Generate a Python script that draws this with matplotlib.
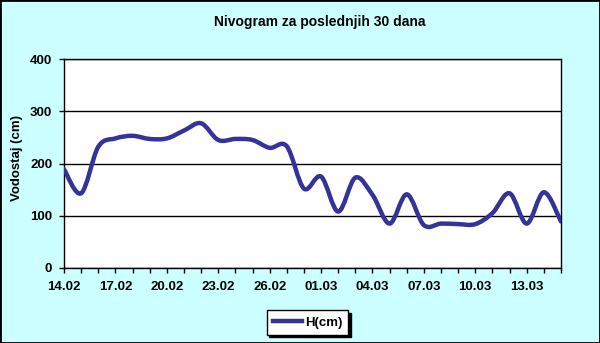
import numpy as np
import matplotlib
matplotlib.use("Agg")
import matplotlib.pyplot as plt
from matplotlib.path import Path
from matplotlib.patches import PathPatch, Rectangle
from matplotlib.lines import Line2D

# ---------------------------------------------------------
# data (water level, cm) - one value per day, 14.02 .. 15.03
# ---------------------------------------------------------
levels = [189, 143, 232, 248, 253, 247, 248, 263, 277, 245,
          247, 245, 230, 233, 152, 175, 108, 173, 140, 85,
          141, 82, 85, 84, 84, 105, 143, 85, 145, 89]
tick_days = [0, 3, 6, 9, 12, 15, 18, 21, 24, 27]
tick_labels = ["14.02", "17.02", "20.02", "23.02", "26.02",
               "01.03", "04.03", "07.03", "10.03", "13.03"]
y_ticks = [0, 100, 200, 300, 400]

BG = "#CCFFFF"
LINE = "#333399"
FONT = "Liberation Sans"


def smooth_path(xs, ys):
    # Excel-style smoothed line: Catmull-Rom segments as cubic beziers
    pts = np.column_stack([xs, ys]).astype(float)
    n = len(pts)
    verts = [pts[0]]
    codes = [Path.MOVETO]
    for i in range(n - 1):
        p0 = pts[max(i - 1, 0)]
        p1 = pts[i]
        p2 = pts[i + 1]
        p3 = pts[min(i + 2, n - 1)]
        verts += [p1 + (p2 - p0) / 6.0, p2 - (p3 - p1) / 6.0, p2]
        codes += [Path.CURVE4] * 3
    return Path(verts, codes)


fig = plt.figure(figsize=(6.0, 3.43), dpi=100)
fig.patch.set_facecolor(BG)
ax = fig.add_axes([64 / 600, 1 - 268 / 343, 497 / 600, 209 / 343])
ax.set_facecolor("white")

days = np.arange(len(levels))
ax.add_patch(PathPatch(smooth_path(days, levels), fill=False,
                       edgecolor=LINE, lw=3.2, capstyle="round",
                       joinstyle="round", zorder=3))

ax.set_xlim(0, len(levels) - 1)
ax.set_ylim(0, 400)
ax.set_yticks(y_ticks)
ax.set_xticks(tick_days)
ax.set_xticklabels(tick_labels)
ax.set_xticks(days, minor=True)
ax.grid(axis="y", color="black", lw=1)
ax.set_axisbelow(True)

for s in ax.spines.values():
    s.set_color("black")
    s.set_linewidth(1)

ax.tick_params(axis="both", which="both", direction="out", length=3.5,
               width=1, color="black")
ax.tick_params(axis="x", which="minor", length=3.5)
ax.tick_params(axis="x", pad=6)
ax.tick_params(axis="y", pad=5)
for lab in ax.get_xticklabels() + ax.get_yticklabels():
    lab.set_fontfamily(FONT)
    lab.set_fontweight("bold")
    lab.set_fontsize(9.5)

ax.set_ylabel("Vodostaj (cm)", fontfamily=FONT, fontweight="bold",
              fontsize=9.5)
ax.yaxis.set_label_coords(-0.082, 0.524)

fig.text(320 / 600, 1 - 22 / 343, "Nivogram za poslednjih 30 dana",
         ha="center", va="center", fontfamily=FONT, fontweight="bold",
         fontsize=10)

handle = Line2D([], [], color=LINE, lw=3.2)
leg = fig.legend([handle], ["H(cm)"], loc="center",
                 bbox_to_anchor=(307.5 / 600, 1 - 322.5 / 343),
                 frameon=True, fancybox=False, framealpha=1,
                 edgecolor="black", facecolor="white",
                 shadow={"color": "black", "alpha": 1},
                 prop={"family": FONT, "weight": "bold", "size": 9.5},
                 handlelength=2.2, handletextpad=0.25, borderpad=0.45,
                 borderaxespad=0)
leg.get_frame().set_linewidth(1)

fig.patches.append(Rectangle((0, 0), 1, 1, transform=fig.transFigure,
                             fill=False, edgecolor="black", lw=2))

fig.savefig("out.png", dpi=100, facecolor=BG)
